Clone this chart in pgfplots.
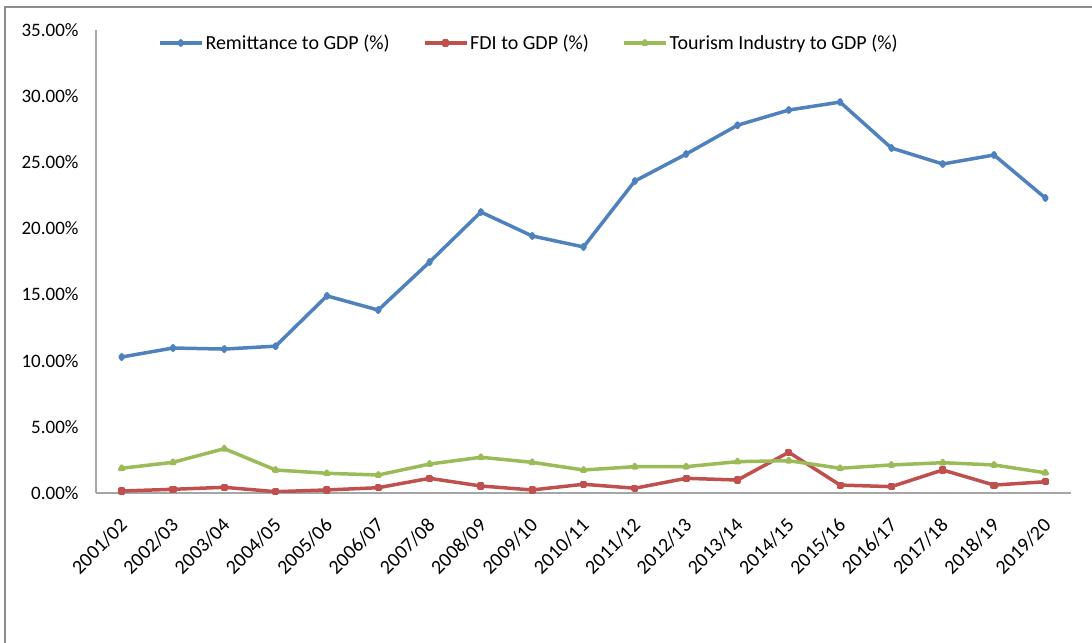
\documentclass[border=0pt]{standalone}
\usepackage{pgfplots}
\pgfplotsset{compat=1.18}
\usepackage{pgfplotstable}
\usepackage{fontspec}
\setmainfont{Carlito}
\definecolor{cblue}{HTML}{4F81BD}
\definecolor{cred}{HTML}{C0504D}
\definecolor{cgreen}{HTML}{9BBB59}
\definecolor{axgray}{HTML}{A6A6A6}
\definecolor{framegray}{HTML}{8C8C8C}
\pgfplotstableread{
x rem fdi tour
0 10.28 0.15 1.87
1 10.96 0.28 2.32
2 10.88 0.43 3.35
3 11.10 0.10 1.74
4 14.90 0.23 1.49
5 13.83 0.40 1.36
6 17.46 1.11 2.19
7 21.24 0.53 2.70
8 19.43 0.23 2.32
9 18.60 0.66 1.74
10 23.58 0.36 1.99
11 25.62 1.11 1.99
12 27.80 0.98 2.37
13 28.95 3.08 2.44
14 29.55 0.60 1.87
15 26.08 0.48 2.12
16 24.87 1.74 2.29
17 25.55 0.60 2.12
18 22.30 0.85 1.53
}\data
\begin{document}
\begin{tikzpicture}
\path[use as bounding box] (0,0) rectangle (1092bp,643bp);
\draw[framegray, line width=1.5bp] (5bp,-2bp) -- (5bp,636bp) -- (1094bp,636bp);
\begin{axis}[
  at={(96bp,150bp)}, anchor=south west,
  scale only axis, width=975bp, height=463bp,
  xmin=-0.5, xmax=18.5, ymin=0, ymax=35,
  axis lines*=left,
  axis line style={draw=axgray, line width=1.2bp, -},
  major tick length=0pt,
  xtick={0,...,18},
  xticklabels={2001/02,2002/03,2003/04,2004/05,2005/06,2006/07,2007/08,2008/09,2009/10,2010/11,2011/12,2012/13,2013/14,2014/15,2015/16,2016/17,2017/18,2018/19,2019/20},
  ytick={0,5,...,35},
  yticklabel={\pgfmathprintnumber[fixed,fixed zerofill,precision=2]{\tick}\%},
  /pgf/number format/assume math mode=true,
  yticklabel style={font=\fontsize{19bp}{22bp}\selectfont, black, xshift=-14bp},
  xticklabel style={font=\fontsize{20bp}{22bp}\selectfont, black, rotate=45, anchor=east, inner sep=0pt, xshift=-19bp, yshift=-22bp},
  legend style={at={(0.0636,0.972)}, anchor=west, draw=none, fill=none,
    font=\fontsize{20bp}{22bp}\selectfont, legend columns=3,
    /tikz/every even column/.append style={column sep=31bp},
    inner sep=0pt, outer sep=0pt},
  legend cell align=left,
  legend image code/.code={\draw[mark repeat=2,mark phase=2,#1] plot coordinates {(0bp,0bp) (21bp,0bp) (42bp,0bp)};},
  every axis plot/.append style={line width=3.5bp, line join=round},
  mark size=2.2bp,
]
\addplot[cblue, mark=diamond*, mark options={solid}] table[x=x, y=rem] {\data};
\addlegendentry{Remittance to GDP (\%)}
\addplot[cred, mark=square*, mark options={solid}, mark size=1.8bp] table[x=x, y=fdi] {\data};
\addlegendentry{FDI to GDP (\%)}
\addplot[cgreen, mark=triangle*, mark options={solid}] table[x=x, y=tour] {\data};
\addlegendentry{Tourism Industry to GDP (\%)}
\end{axis}
\end{tikzpicture}
\end{document}
